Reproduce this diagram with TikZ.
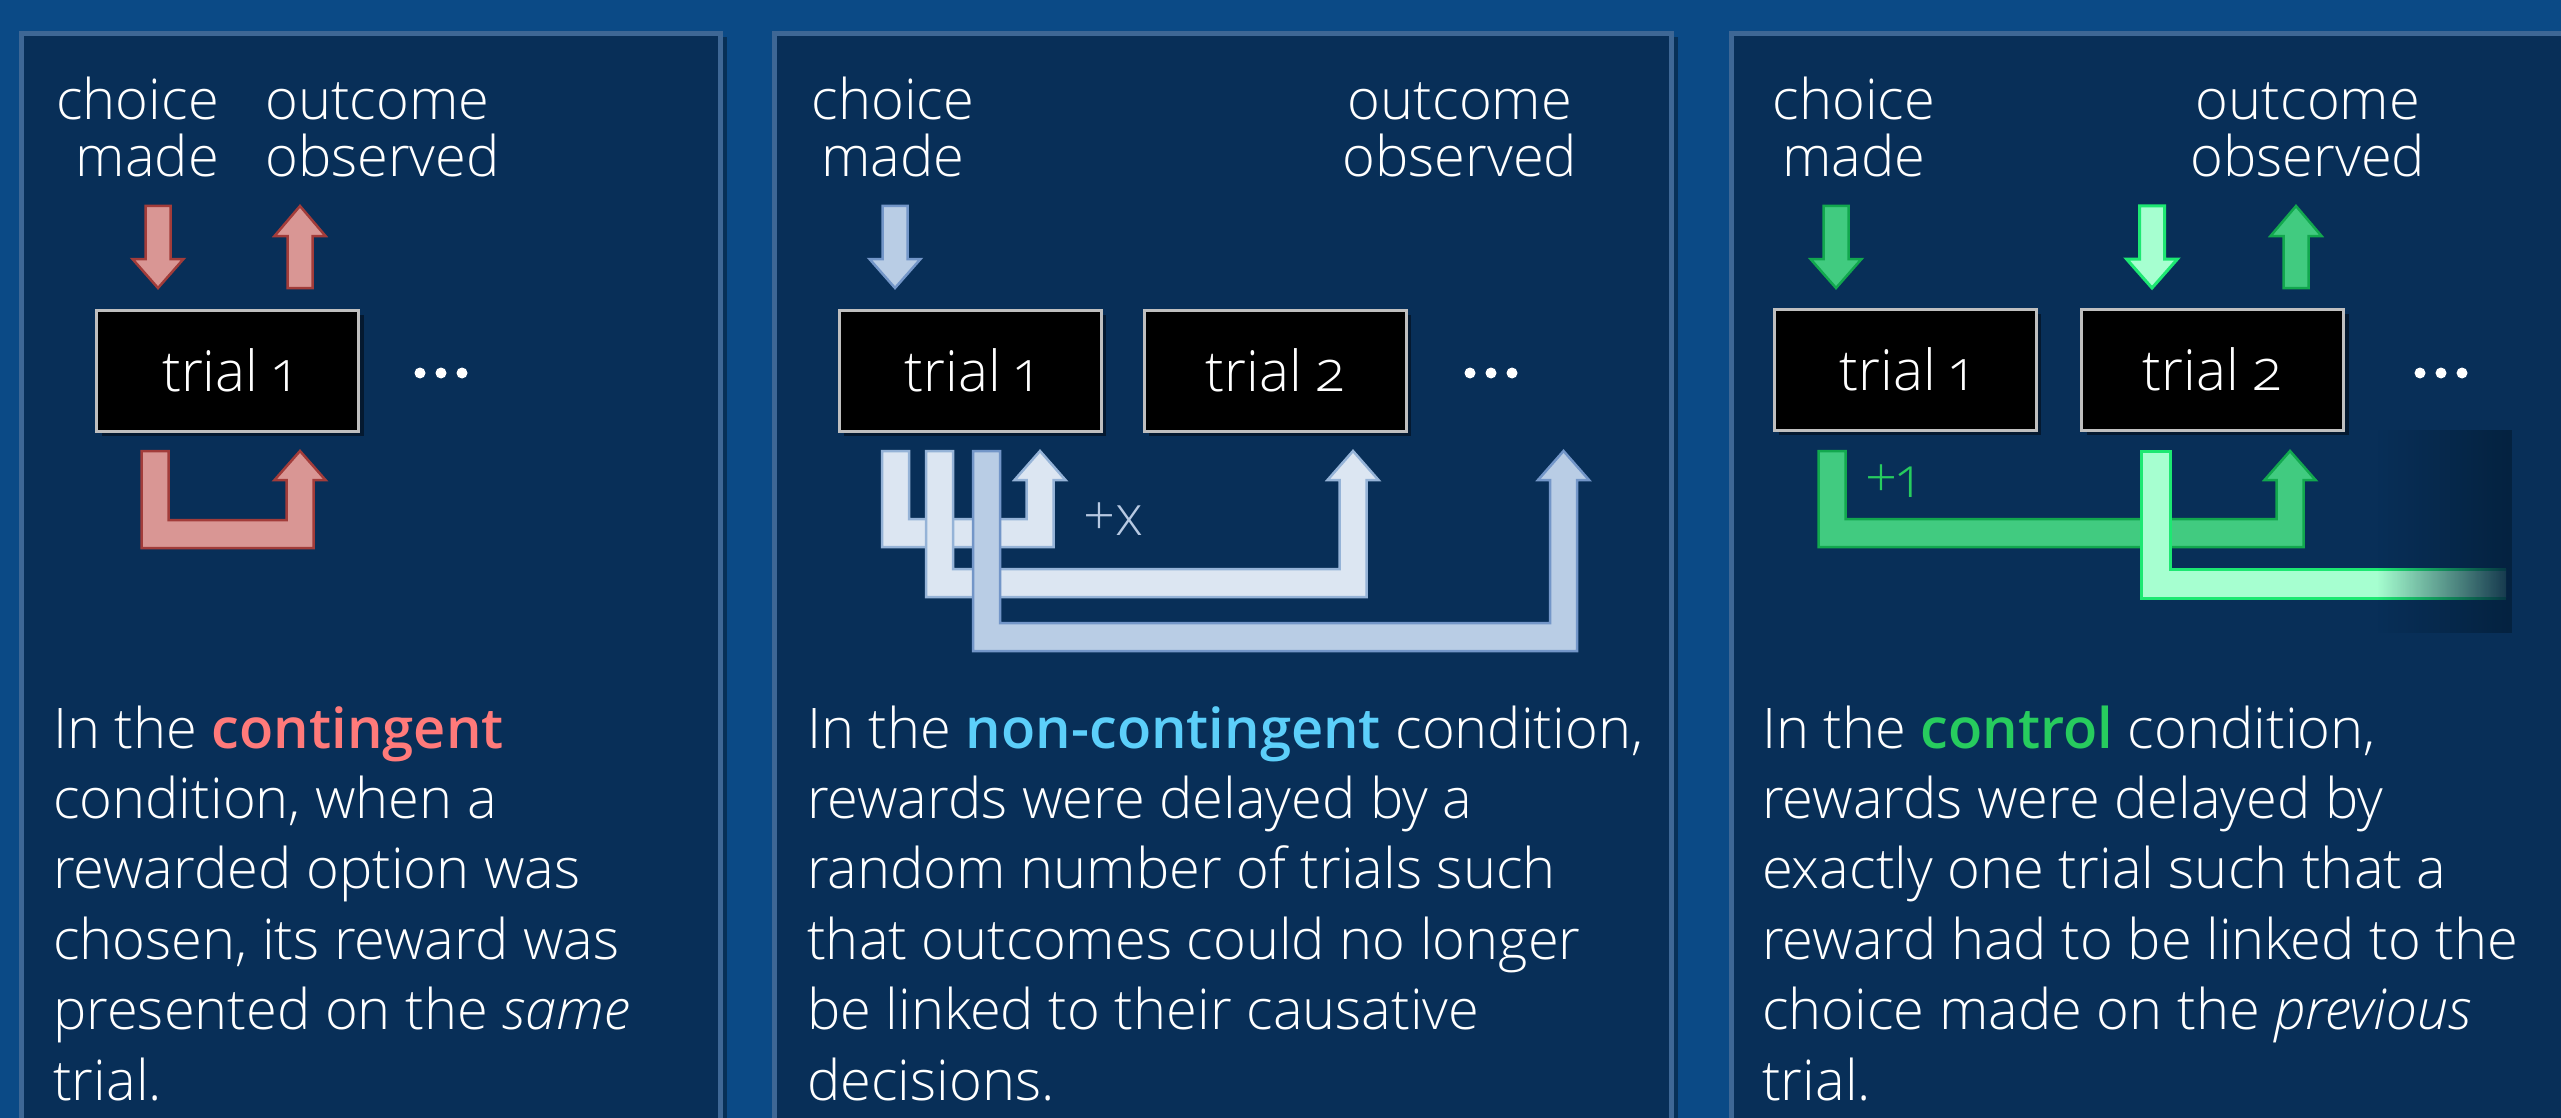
\documentclass[tikz,border=0pt]{standalone}
\usepackage{fontspec}
\IfFontExistsTF{Open Sans Light}
  {\setmainfont{Open Sans Light}[Numbers=OldStyle]
   \IfFontExistsTF{Open Sans Semibold}
     {\newfontfamily\strongfont{Open Sans Semibold}}
     {\newfontfamily\strongfont{Open Sans}}}
  {\setmainfont{Open Sans}[Numbers=OldStyle]
   \IfFontExistsTF{Open Sans Semibold}
     {\newfontfamily\strongfont{Open Sans Semibold}}
     {\newcommand{\strongfont}{\bfseries}}}
\usetikzlibrary{shadows,fadings}

\definecolor{bgblue}{HTML}{0B4A86}
\definecolor{panelfill}{HTML}{082F58}
\definecolor{panelline}{HTML}{3E6795}
\definecolor{boxline}{HTML}{BFBFBF}
\definecolor{pinkfill}{HTML}{D99694}
\definecolor{pinkline}{HTML}{A23C3A}
\definecolor{palefill}{HTML}{DCE6F2}
\definecolor{paleline}{HTML}{95B3D7}
\definecolor{bluefill}{HTML}{B9CDE5}
\definecolor{blueline}{HTML}{7396C8}
\definecolor{greenfill}{HTML}{41CB80}
\definecolor{greenline}{HTML}{12A84E}
\definecolor{mintfill}{HTML}{A6FFD0}
\definecolor{mintline}{HTML}{1DE872}
\definecolor{contcol}{HTML}{FF7A7A}
\definecolor{noncol}{HTML}{5CCFFA}
\definecolor{ctrlcol}{HTML}{27CC5E}
\definecolor{pluscol}{HTML}{B7C9E2}
\definecolor{fadecol}{HTML}{04213E}

\tikzfading[name=fadein, left color=transparent!100, middle color=transparent!35, right color=transparent!0]

% block arrows: shaft centre x, then style
\newcommand{\downblock}[2]{%
  \draw[#2] ({#1-12.5},206) -- ({#1+12.5},206) -- ({#1+12.5},259) -- ({#1+25.5},259)
    -- (#1,288) -- ({#1-25.5},259) -- ({#1-12.5},259) -- cycle;}
\newcommand{\upblock}[2]{%
  \draw[#2] ({#1-12.5},288) -- ({#1+12.5},288) -- ({#1+12.5},236) -- ({#1+25.5},236)
    -- (#1,206) -- ({#1-25.5},236) -- ({#1-12.5},236) -- cycle;}
% U-shaped block arrow: start x, target x, bottom y, style
\newcommand{\ublock}[4]{%
  \draw[#4] ({#1-13.5},451) -- ({#1-13.5},#3) -- ({#2+13.5},#3) -- ({#2+13.5},480)
    -- ({#2+25.5},480) -- (#2,451) -- ({#2-25.5},480) -- ({#2-13.5},480)
    -- ({#2-13.5},{#3-28}) -- ({#1+13.5},{#3-28}) -- ({#1+13.5},451) -- cycle;}
% L-shaped band running off to the right (open at its right end): start x, end x, bottom y, style
\newcommand{\lblock}[4]{%
  \draw[#4] (#2,{#3-29}) -- ({#1+14.5},{#3-29}) -- ({#1+14.5},451)
    -- ({#1-14.5},451) -- ({#1-14.5},#3) -- (#2,#3);}

\tikzset{
  panel/.style={fill=panelfill, draw=panelline, line width=5pt,
    drop shadow={shadow xshift=6pt, shadow yshift=-4pt, opacity=0.35, fill=black}},
  trialbox/.style={fill=black, draw=boxline, line width=3pt, minimum width=262pt,
    minimum height=121pt, inner sep=0pt, text=white,
    font=\fontsize{56.5}{60}\selectfont,
    drop shadow={shadow xshift=5pt, shadow yshift=-5pt, opacity=0.45, fill=black}},
  lbl/.style={inner sep=0pt, text=white, font=\fontsize{56}{57}\selectfont},
  body/.style={anchor=base west, inner sep=0pt, text=white, font=\fontsize{56}{70}\selectfont},
  pinkarrow/.style={fill=pinkfill, draw=pinkline, line width=2.5pt},
  palearrow/.style={fill=palefill, draw=paleline, line width=2.5pt},
  bluearrow/.style={fill=bluefill, draw=blueline, line width=2.5pt},
  greenarrow/.style={fill=greenfill, draw=greenline, line width=2.5pt},
  mintarrow/.style={fill=mintfill, draw=mintline, line width=3pt},
  dot/.style={fill=white}
}

\begin{document}
\begin{tikzpicture}[x=1pt, y=-1pt]
\useasboundingbox (0,0) rectangle (2561,1118);
\clip (0,0) rectangle (2561,1118);
\fill[bgblue] (0,0) rectangle (2561,1118);

% three panels
\draw[panel] (21.5,33.5) rectangle (720.5,1160);
\draw[panel] (774.5,33.5) rectangle (1671.5,1160);
\draw[panel] (1731.5,33.5) rectangle (2640,1160);

% ---------- contingent ----------
\node[lbl, anchor=base east] (c1a) at (219,120) {choice};
\node[lbl, anchor=base east] (c1b) at (219,177) {made};
\node[lbl, anchor=base west] (o1a) at (265,120) {outcome};
\node[lbl, anchor=base west] (o1b) at (265,177) {observed};
\downblock{158}{pinkarrow}
\upblock{300}{pinkarrow}
\node[trialbox] (p1t1) at (227.5,370.5) {trial 1};
\foreach \x in {420,441,462} \fill[dot] (\x,373) circle (5.5pt);
\ublock{155}{300}{548}{pinkarrow}

% ---------- non-contingent ----------
\node[lbl, anchor=base] (c2a) at (893,120) {choice};
\node[lbl, anchor=base] (c2b) at (893,177) {made};
\node[lbl, anchor=base] (o2a) at (1460,120) {outcome};
\node[lbl, anchor=base] (o2b) at (1460,177) {observed};
\downblock{895}{bluearrow}
\node[trialbox] (p2t1) at (970,370.5) {trial 1};
\node[trialbox] (p2t2) at (1275,370.5) {trial 2};
\foreach \x in {1470,1491,1512} \fill[dot] (\x,373) circle (5.5pt);
\ublock{895.5}{1040}{547}{palearrow}
\ublock{939.5}{1353}{597}{palearrow}
\ublock{986.5}{1563.5}{651}{bluearrow}
\node[lbl, anchor=base west, text=pluscol] (px) at (1083,535) {+x};

% ---------- control ----------
\node[lbl, anchor=base] (c3a) at (1854,120) {choice};
\node[lbl, anchor=base] (c3b) at (1854,177) {made};
\node[lbl, anchor=base] (o3a) at (2308,120) {outcome};
\node[lbl, anchor=base] (o3b) at (2308,177) {observed};
\downblock{1836}{greenarrow}
\downblock{2152}{mintarrow}
\upblock{2296}{greenarrow}
\node[trialbox] (p3t1) at (1905,369.5) {trial 1};
\node[trialbox] (p3t2) at (2212.5,369.5) {trial 2};
\foreach \x in {2420,2441,2462} \fill[dot] (\x,373) circle (5.5pt);
\ublock{1832}{2290}{547}{greenarrow}
\lblock{2155.5}{2506}{598}{mintarrow}
\fill[fadecol, path fading=fadein, fill opacity=0.93] (2377,430) rectangle (2512,633);
\node[lbl, anchor=base west, text=ctrlcol] (p1) at (1865,497) {+1};

% ---------- descriptions ----------
\foreach \txt [count=\i] in {%
  {In the {\color{contcol}\strongfont contingent}},
  {condition, when a},
  {rewarded option was},
  {chosen, its reward was},
  {presented on the \textit{same}},
  {trial.}}
  \node[body] (da\i) at (53,{748+70.4*(\i-1)}) {\txt};

\foreach \txt [count=\i] in {%
  {In the {\color{noncol}\strongfont non-contingent} condition,},
  {rewards were delayed by a},
  {random number of trials such},
  {that outcomes could no longer},
  {be linked to their causative},
  {decisions.}}
  \node[body] (db\i) at (807,{748+70.4*(\i-1)}) {\txt};

\foreach \txt [count=\i] in {%
  {In the {\color{ctrlcol}\strongfont control} condition,},
  {rewards were delayed by},
  {exactly one trial such that a},
  {reward had to be linked to the},
  {choice made on the \textit{previous}},
  {trial.}}
  \node[body] (dc\i) at (1762,{748+70.4*(\i-1)}) {\txt};
\end{tikzpicture}
\end{document}
